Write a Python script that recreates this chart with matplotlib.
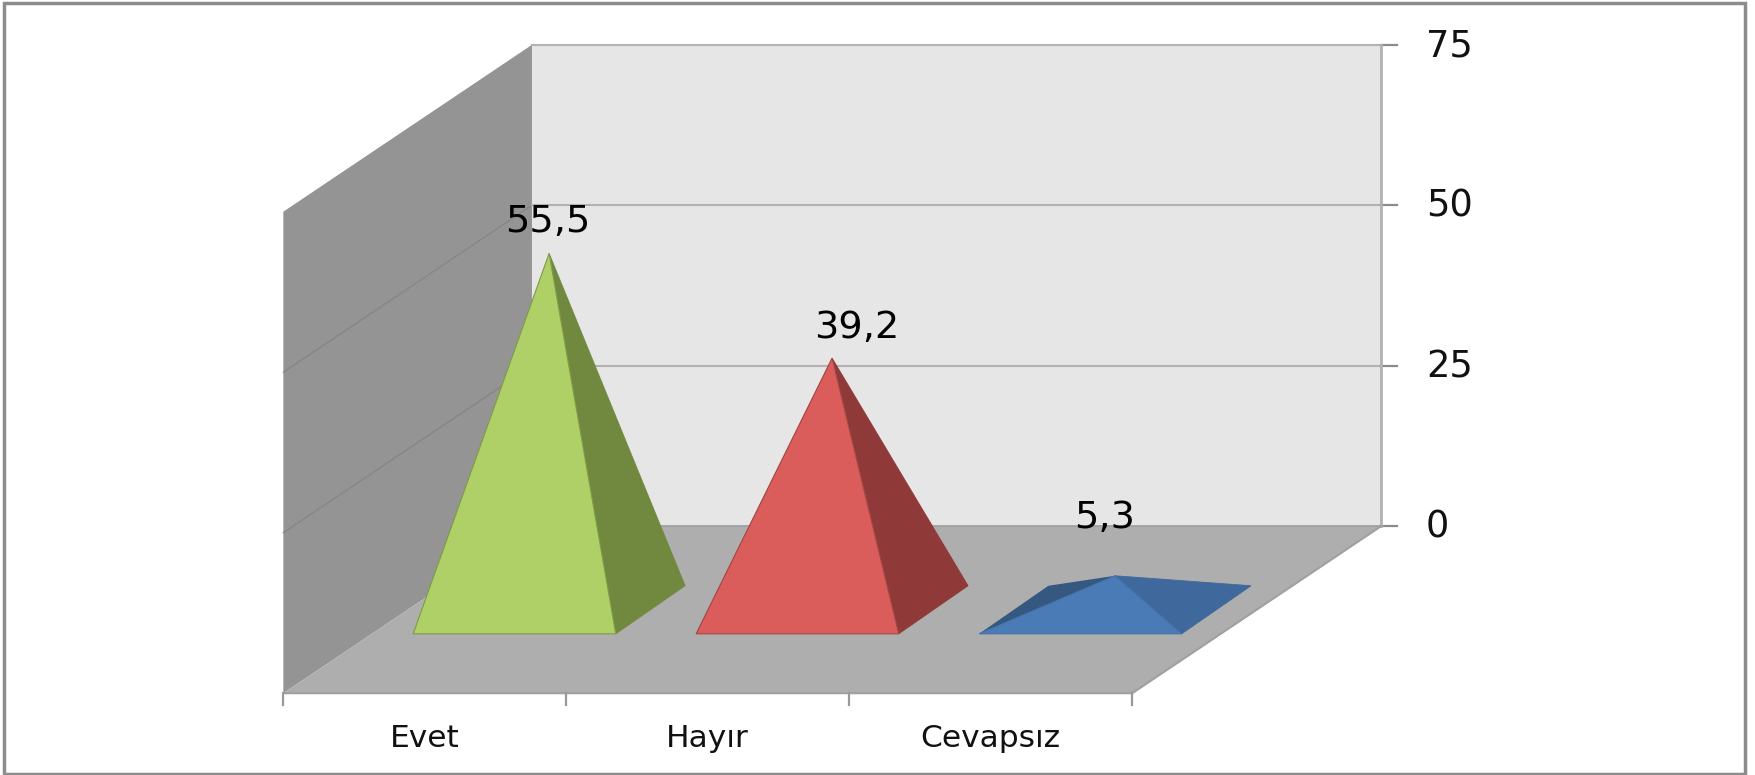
import matplotlib
matplotlib.use('Agg')
import matplotlib.pyplot as plt
from matplotlib.patches import Polygon, Rectangle

categories = ['Evet', 'Hayır', 'Cevapsız']
values = [55.5, 39.2, 5.3]
value_labels = ['55,5', '39,2', '5,3']
y_ticks = [0, 25, 50, 75]

front_colors = ['#AFD066', '#DB5D5B', '#4A7BB7']
side_colors = ['#71893F', '#8F3A38', '#3F689C']
left_colors = ['#5F7536', '#7A3130', '#34587F']
edge_colors = ['#7F9C48', '#A34744', '#4472A8']

# label offsets from the apex, pixels
label_dx = [-1, 25, -10]
label_dy = [-31, -30, -58]

S = 1756 / 1568
FX, FY = 253 * S, 619 * S   # front left corner of floor
CAT_W = 252.67 * S
DEPTH_X, DEPTH_Y = 222 * S, 149 * S
V_SCALE = 5.733 * S


def proj(c, d, v):
    # category position, depth 0..1, value -> pixel
    return FX + c * CAT_W + d * DEPTH_X, FY - d * DEPTH_Y - v * V_SCALE


fig = plt.figure(figsize=(17.56, 7.75), dpi=100)
ax = fig.add_axes([0, 0, 1, 1])
ax.set_xlim(0, 1756)
ax.set_ylim(775, 0)
ax.axis('off')

ax.add_patch(Rectangle((4.5, 2.5), 1740.5, 771, fc='white', ec='#8C8C8C', lw=2.5))

n = len(categories)
top = y_ticks[-1]

# walls and floor
ax.add_patch(Polygon([proj(0, 0, 0), proj(0, 1, 0), proj(0, 1, top), proj(0, 0, top)], fc='#949494', ec='none'))
ax.add_patch(Polygon([proj(0, 1, 0), proj(n, 1, 0), proj(n, 1, top), proj(0, 1, top)], fc='#E6E6E6', ec='none'))
ax.add_patch(Polygon([proj(0, 0, 0), proj(n, 0, 0), proj(n, 1, 0), proj(0, 1, 0)], fc='#AEAEAE', ec='none'))

# grid lines and axes
for t in y_ticks:
    a = proj(0, 0, t)
    b = proj(0, 1, t)
    c = proj(n, 1, t)
    if t > 0 and t < top:
        ax.plot([a[0], b[0]], [a[1], b[1]], color='#858585', lw=0.9)
    if t > 0:
        ax.plot([b[0], c[0]], [b[1], c[1]], color='#B2B2B2', lw=1.5)
    ax.plot([c[0], c[0] + 16], [c[1], c[1]], color='#8C8C8C', lw=1.6)
    ax.text(c[0] + 45, c[1] + 1, str(t), fontsize=26.5, ha='left', va='center', color='#111111')

ax.plot(*zip(proj(n, 1, 0), proj(n, 1, top)), color='#B2B2B2', lw=2)
ax.plot(*zip(proj(0, 0, 0), proj(n, 0, 0), proj(n, 1, 0)), color='#A0A0A0', lw=1.5)
ax.plot(*zip(proj(0, 1, 0), proj(n, 1, 0)), color='#9A9A9A', lw=1.2)

for i in range(n + 1):
    x0, y0 = proj(i, 0, 0)
    ax.plot([x0, x0], [y0, y0 + 12], color='#999999', lw=1.6)

for i, cat in enumerate(categories):
    x0, y0 = proj(i + 0.5, 0, 0)
    ax.text(x0, y0 + 45, cat, fontsize=22.5, ha='center', va='center', color='#111111')

# pyramids
for i, val in enumerate(values):
    fl = proj(i + 0.146, 0.356, 0)
    fr = proj(i + 0.862, 0.356, 0)
    br = proj(i + 0.854, 0.644, 0)
    bl = proj(i + 0.138, 0.644, 0)
    apex = proj(i + 0.5, 0.5, val)
    ax.add_patch(Polygon([fl, bl, apex], fc=left_colors[i], ec='none', zorder=5))
    ax.add_patch(Polygon([fr, br, apex], fc=side_colors[i], ec=side_colors[i], lw=0.6, zorder=5))
    ax.add_patch(Polygon([fl, fr, apex], fc=front_colors[i], ec=edge_colors[i], lw=0.8, zorder=6))
    ax.text(apex[0] + label_dx[i], apex[1] + label_dy[i], value_labels[i], fontsize=27.5,
            ha='center', va='center', color='black', zorder=7)

fig.savefig('out.png', dpi=100)
